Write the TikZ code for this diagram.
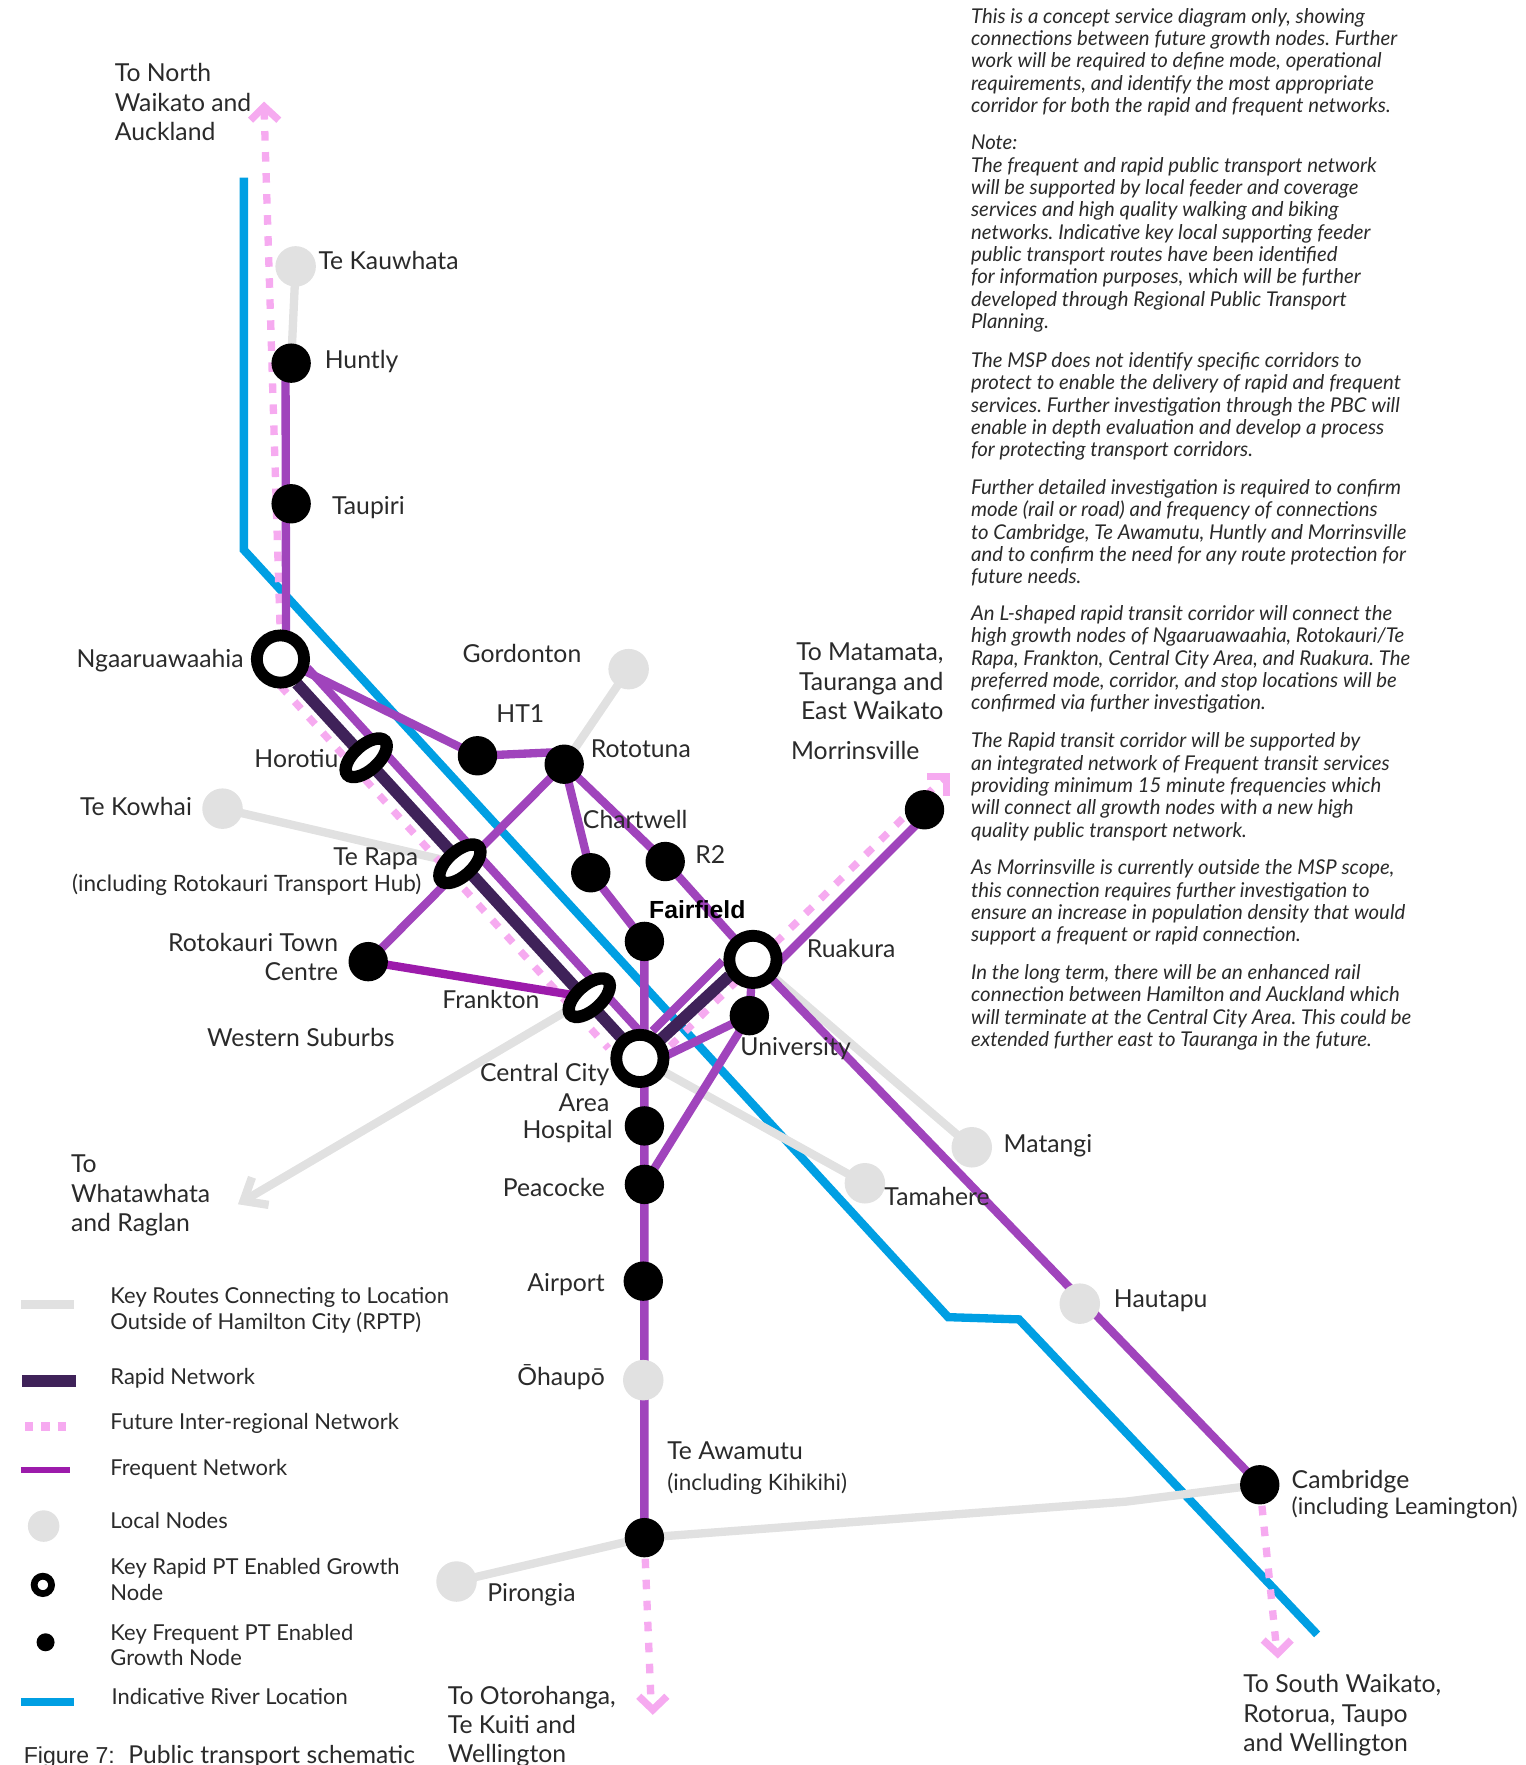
\documentclass[tikz,border=0pt]{standalone}
\usepackage{fontspec}
\setmainfont{Lato}
\newfontfamily\helv{Liberation Sans}
\usetikzlibrary{shapes.geometric,calc}
\definecolor{fq}{HTML}{A044BC}
\definecolor{fqs}{HTML}{9C1BAB}
\definecolor{rp}{HTML}{3F2259}
\definecolor{pk}{HTML}{F6AAF0}
\definecolor{gy}{HTML}{E1E1E1}
\definecolor{rv}{HTML}{009FE3}
\definecolor{tx}{HTML}{2A2A2A}
\newcommand{\fst}{\rule{0pt}{16pt}}
\newcommand{\istr}{\rule{0pt}{13pt}}
\tikzset{
 freq/.style={draw=fq,line width=7.4pt},
 rapid/.style={draw=rp,line width=10.5pt},
 feeder/.style={draw=gy,line width=7.4pt},
 future/.style={draw=pk,line width=6.5pt,dash pattern=on 8.5pt off 10.2pt},
 chev/.style={draw=pk,line width=6.5pt,miter limit=10},
 river/.style={draw=rv,line width=7.4pt},
 blacknode/.style={circle,fill=black,minimum size=35pt,inner sep=0pt},
 localnode/.style={circle,fill=gy,minimum size=36pt,inner sep=0pt},
 ring/.style={circle,draw=black,fill=white,line width=10.5pt,minimum size=42pt,inner sep=0pt},
 slit/.style={ellipse,draw=black,fill=white,line width=11pt,minimum width=45pt,minimum height=22pt,inner sep=0pt,rotate=42},
 lbl/.style={anchor=base west,inner sep=0pt,text=tx,xshift=-0.8pt,font=\fontsize{22}{26}\selectfont},
 rlbl/.style={anchor=base east,inner sep=0pt,text=tx,font=\fontsize{22}{26}\selectfont},
 blk/.style={anchor=north west,inner sep=0pt,align=left,text=tx,xshift=-0.8pt,font=\fontsize{22}{26}\selectfont},
 rblk/.style={anchor=north east,inner sep=0pt,align=right,text=tx,font=\fontsize{22}{26}\selectfont},
 small/.style={anchor=base west,inner sep=0pt,text=tx,xshift=-0.8pt,font=\fontsize{20}{24}\selectfont},
 leg/.style={anchor=north west,inner sep=0pt,align=left,text=tx,xshift=-0.8pt,yshift=1.2pt,font=\fontsize{19.5}{23}\selectfont},
 para/.style={anchor=north west,inner sep=0pt,align=left,text=tx,xshift=-0.8pt,yshift=0.7pt,font=\frenchspacing\fontsize{18.1}{19.85}\selectfont\itshape},
}
\begin{document}
\begin{tikzpicture}[x=1pt,y=-1pt]
\useasboundingbox (-0.8,-0.8) rectangle (1354.8,1568.1);
\coordinate (rv0) at (216,157);\coordinate (rv1) at (216,488);\coordinate (rv2) at (842,1170);\coordinate (rv3) at (905,1172);\coordinate (rv4) at (1170,1452);
\draw[river] (rv0)--(rv1)--(rv2)--(rv3)--(rv4);
\coordinate (ngaC) at (248.5,585);
\coordinate (hor) at (324.7,672.8);
\coordinate (rap) at (408,767);
\coordinate (fra) at (523,886);
\coordinate (cen) at (568,940);
\coordinate (rua) at (668.5,852);
\coordinate (hunC) at (258,322);
\coordinate (taiC) at (258,447);
\coordinate (ht1C) at (423.6,671);
\coordinate (rotC) at (500.7,678.5);
\coordinate (chaC) at (524.3,775);
\coordinate (r2C) at (590.5,765);
\coordinate (faiC) at (572,836);
\coordinate (uniC) at (665.3,902);
\coordinate (rtcC) at (326.5,854);
\coordinate (hosC) at (572,1000);
\coordinate (peaC) at (572,1052);
\coordinate (airC) at (571,1138);
\coordinate (ohaC) at (571,1226);
\coordinate (awaC) at (572,1366);
\coordinate (camC) at (1119,1319);
\coordinate (morC) at (821,719);
\coordinate (kauC) at (262,236);
\coordinate (gorC) at (558,594);
\coordinate (kowC) at (197,718);
\coordinate (matC) at (863,1019);
\coordinate (tamC) at (768,1051);
\coordinate (hauC) at (959,1158);
\coordinate (pirC) at (405,1405);
% grey routes
\coordinate (whaT) at (215.7,1066.7);
\coordinate (camB) at (1000,1334);
\draw[feeder] (kauC)--(hunC);
\draw[feeder] (gorC)--(rotC);
\draw[feeder] (kowC)--(rap);
\draw[feeder] (fra)--(whaT);
\draw[feeder] ($(whaT)+(22.3,3.5)$)--(whaT)--($(whaT)+(7.5,-21)$);
\draw[feeder] (cen)--(tamC);
\draw[feeder] (rua)--(matC);
\draw[feeder] (pirC)--(awaC)--(camB)--(camC);
% pink future
\coordinate (pkN) at (234,97);
\coordinate (pkM) at (838,691);
\coordinate (pkS) at (578,1515);
\coordinate (pkC) at (1134,1466);
\draw[future] (pkN)--(249,585)--(ngaC);
\draw[future] ($(ngaC)+(0,24)$)--(540,931);
\draw[future] (595,929)--(pkM);
\draw[future] (awaC)--(pkS);
\draw[future] (camC)--(pkC);
\draw[chev] (222,106)--(234,94)--(247,106);
\draw[chev] (823,689.5)--(840.6,689.5)--(840.6,707);
\draw[chev] (567,1507)--(579.5,1519)--(592,1507);
\draw[chev] (1122,1457)--(1135,1469)--(1147,1457);
% rapid
\draw[rapid] ($(ngaC)+(14.5,21.7)$)--($(cen)+(-11,-12.3)$);
\draw[rapid] ($(rua)+(-21,14.7)$)--($(cen)+(18.7,-17)$);
% frequent
\draw[freq] ($(hunC)+(-5,0)$)--($(ngaC)+(5,0)$);
\draw[freq] (ngaC)--(ht1C)--($(rotC)+(0,-11)$);
\draw[freq] ($(ngaC)+(24,8)$)--($(cen)+(2,-21.6)$);
\draw[freq] (rotC)--(rtcC);
\draw[freq] (rotC)--(chaC)--(faiC)--(awaC);
\draw[freq] (rotC)--(r2C)--(rua)--(camC);
\draw[freq] ($(morC)+(0,6)$)--($(rua)+(11.5,14)$);
\draw[freq] ($(rua)+(-27,1.3)$)--($(cen)+(11.3,-24.4)$);
\draw[freq] (rua)--(uniC)--($(cen)+(17,0.6)$);
\draw[freq] (uniC)--(peaC);
\draw[draw=fqs,line width=7.4pt] (rtcC)--(fra);
% nodes
\node[ring] (nga) at (ngaC) {};
\node[ring] (cent) at (cen) {};
\node[ring] (ruak) at (rua) {};
\node[slit] (horo) at (hor) {};
\node[slit] (tera) at (rap) {};
\node[slit] (fran) at (fra) {};
\foreach \n in {hun,tai,ht1,rot,cha,r2,fai,uni,rtc,hos,pea,air,awa,cam,mor}{\node[blacknode] (\n) at (\n C) {};}
\foreach \n in {kau,gor,kow,mat,tam,hau,oha,pir}{\node[localnode] (\n) at (\n C) {};}
% labels
\node[blk] (l1) at (102,55.5) {\fst To North\\Waikato and\\Auckland};
\node[lbl] (l2) at (283,238.5) {Te Kauwhata};
\node[lbl] (l3) at (288.5,326.5) {Huntly};
\node[lbl] (l4) at (295,456.5) {Taupiri};
\node[rlbl] (l5) at (216,592.5) {Ngaaruawaahia};
\node[lbl] (l6) at (411,588.5) {Gordonton};
\node[lbl] (l7) at (441,641.5) {HT1};
\node[lbl] (l8) at (525,672.5) {Rototuna};
\node[lbl] (l9) at (226,681.5) {Horotiu};
\node[lbl] (l10) at (71,724.5) {Te Kowhai};
\node[lbl] (l11) at (518,735.5) {Chartwell};
\node[lbl] (l12) at (618,766.5) {R2};
\node[rlbl] (l13) at (371,768.5) {Te Rapa};
\node[small] (l14) at (64,791.5) {(including Rotokauri Transport Hub)};
\node[rblk] (l15) at (300,828.5) {\fst Rotokauri Town\\Centre};
\node[lbl] (l16) at (393,895.5) {Frankton};
\node[lbl] (l17) at (184,929.5) {Western Suburbs};
\node[anchor=base west,inner sep=0pt,font=\helv\fontsize{22}{26}\selectfont,text=black] (l18) at (576,815.5) {\textbf{Fairfield}};
\node[lbl] (l19) at (717,850.5) {Ruakura};
\node[lbl] (l20) at (658,937.5) {University};
\node[rblk] (l21) at (541,944.5) {\fst Central City\\Area};
\node[rlbl] (l22) at (544,1011.5) {Hospital};
\node[rlbl] (l23) at (537,1062.5) {Peacocke};
\node[blk] (l24) at (63,1025.5) {\fst To\\Whatawhata\\and Raglan};
\node[rlbl] (l25) at (537,1147.5) {Airport};
\node[rlbl] (l26) at (537,1230.5) {Ōhaupō};
\node[lbl] (l27) at (593,1296.5) {Te Awamutu};
\node[small] (l28) at (593,1324.5) {(including Kihikihi)};
\node[lbl] (l29) at (1148,1322.5) {Cambridge};
\node[small,font=\fontsize{20.4}{24}\selectfont] (l30) at (1148,1345.5) {(including Leamington)};
\node[lbl] (l31) at (433,1422.5) {Pirongia};
\node[blk] (l32) at (398,1497.5) {\fst To Otorohanga,\\Te Kuiti and\\Wellington};
\node[blk] (l33) at (1105,1487.5) {\fst To South Waikato,\\Rotorua, Taupo\\and Wellington};
\node[lbl] (l34) at (892,1023.5) {Matangi};
\node[lbl] (l35) at (786,1070.5) {Tamahere};
\node[lbl] (l36) at (990,1161.5) {Hautapu};
\node[rblk] (l37) at (838,570.5) {\fst To Matamata,\\Tauranga and\\East Waikato};
\node[lbl] (l38) at (703,674.5) {Morrinsville};
% legend
\coordinate (a1) at (17.8,1158.6);\coordinate (a2) at (65,1158.6);
\draw[draw=gy,line width=8pt] (a1)--(a2);
\coordinate (b1) at (19,1226.5);\coordinate (b2) at (67,1226.5);
\draw[rapid] (b1)--(b2);
\coordinate (c1) at (21.3,1267.3);\coordinate (c2) at (60,1267.3);
\draw[draw=pk,line width=7.4pt,dash pattern=on 7.4pt off 7.2pt] (c1)--(c2);
\coordinate (d1) at (17.8,1306);\coordinate (d2) at (61.3,1306);
\draw[draw=fqs,line width=4.8pt] (d1)--(d2);
\node[circle,fill=gy,minimum size=28pt,inner sep=0pt] (e1) at (38,1355.7) {};
\node[circle,draw=black,fill=white,line width=6pt,minimum size=15.5pt,inner sep=0pt] (e2) at (37.3,1408) {};
\node[circle,fill=black,minimum size=16pt,inner sep=0pt] (e3) at (39.7,1459) {};
\coordinate (f1) at (17.8,1512);\coordinate (f2) at (65,1512);
\draw[river] (f1)--(f2);
\node[leg] (g1) at (98,1143) {\fst Key Routes Connecting to Location\\Outside of Hamilton City (RPTP)};
\node[leg] (g2) at (98,1215) {\fst Rapid Network};
\node[leg] (g3) at (98,1255) {\fst Future Inter-regional Network};
\node[leg] (g4) at (98,1296) {\fst Frequent Network};
\node[leg] (g5) at (98,1343) {\fst Local Nodes};
\node[leg] (g6) at (98,1384) {\fst Key Rapid PT Enabled Growth\\Node};
\node[leg] (g7) at (98,1442) {\fst Key Frequent PT Enabled\\Growth Node};
\node[leg] (g8) at (99,1499) {\fst Indicative River Location};
\node[anchor=base west,inner sep=0pt,text=tx,font=\fontsize{21.9}{24}\selectfont] (cap) at (20.2,1567) {{\helv\fontsize{20.5}{24}\selectfont Figure 7:}\hspace{12pt}Public transport schematic};
% notes
\node[para] (p1) at (863,7) {\istr This is a concept service diagram only, showing\\connections between future growth nodes. Further\\work will be required to define mode, operational\\requirements, and identify the most appropriate\\corridor for both the rapid and frequent networks.};
\node[para] (p2) at (863,120) {\istr Note:\\The frequent and rapid public transport network\\will be supported by local feeder and coverage\\services and high quality walking and biking\\networks. Indicative key local supporting feeder\\public transport routes have been identified\\for information purposes, which will be further\\developed through Regional Public Transport\\Planning.};
\node[para] (p3) at (863,313) {\istr The MSP does not identify specific corridors to\\protect to enable the delivery of rapid and frequent\\services. Further investigation through the PBC will\\enable in depth evaluation and develop a process\\for protecting transport corridors.};
\node[para] (p4) at (863,426) {\istr Further detailed investigation is required to confirm\\mode (rail or road) and frequency of connections\\to Cambridge, Te Awamutu, Huntly and Morrinsville\\and to confirm the need for any route protection for\\future needs.};
\node[para] (p5) at (863,538) {\istr An L-shaped rapid transit corridor will connect the\\high growth nodes of Ngaaruawaahia, Rotokauri/Te\\Rapa, Frankton, Central City Area, and Ruakura. The\\preferred mode, corridor, and stop locations will be\\confirmed via further investigation.};
\node[para] (p6) at (863,651) {\istr The Rapid transit corridor will be supported by\\an integrated network of Frequent transit services\\providing minimum 15 minute frequencies which\\will connect all growth nodes with a new high\\quality public transport network.};
\node[para] (p7) at (863,764) {\istr As Morrinsville is currently outside the MSP scope,\\this connection requires further investigation to\\ensure an increase in population density that would\\support a frequent or rapid connection.};
\node[para] (p8) at (863,857) {\istr In the long term, there will be an enhanced rail\\connection between Hamilton and Auckland which\\will terminate at the Central City Area. This could be\\extended further east to Tauranga in the future.};
\end{tikzpicture}
\end{document}
